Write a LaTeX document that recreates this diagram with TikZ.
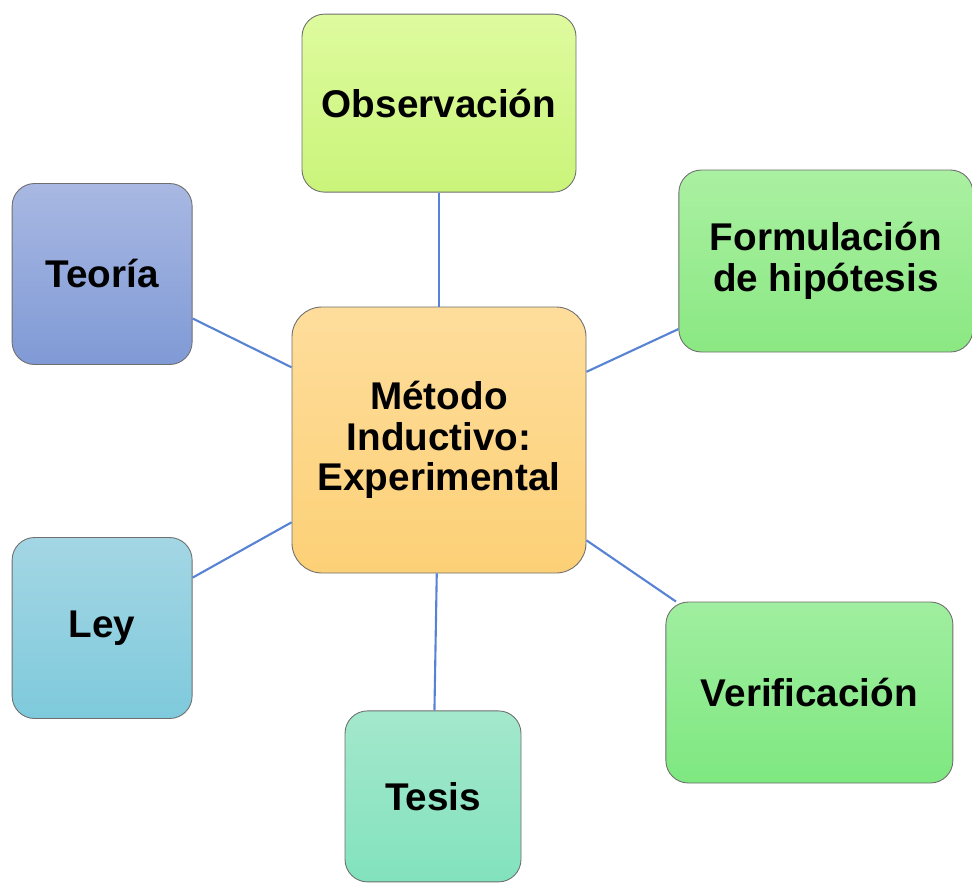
\documentclass[tikz,border=0pt]{standalone}
\usepackage{fontspec}
\setmainfont{Liberation Sans}
\usepackage{tikz}
\usetikzlibrary{positioning}

\definecolor{lineblue}{RGB}{88,130,212}
\definecolor{edgegray}{RGB}{110,110,110}

\begin{document}
\begin{tikzpicture}[
  box/.style={draw=edgegray, line width=0.5pt, rounded corners=0.45cm, align=center,
    font=\fontsize{22}{23}\selectfont\bfseries, inner sep=0pt},
  bigbox/.style={box, rounded corners=0.6cm, minimum width=5.88cm, minimum height=5.32cm,
    top color={rgb,255:red,254;green,221;blue,156}, bottom color={rgb,255:red,252;green,208;blue,118}},
  link/.style={draw=lineblue, line width=1.2pt}
]
\useasboundingbox (-8.78,8.80) rectangle (10.66,-8.86);

% Nodes
\node[bigbox] (met) {Método\\Inductivo:\\Experimental};

\node[box, above=2.28cm of met, minimum width=5.48cm, minimum height=3.56cm,
  top color={rgb,255:red,222;green,251;blue,158}, bottom color={rgb,255:red,202;green,244;blue,122}] (obs) {Observación};
\node[box, right=1.84cm of met, yshift=3.58cm, minimum width=5.88cm, minimum height=3.64cm,
  top color={rgb,255:red,170;green,240;blue,162}, bottom color={rgb,255:red,138;green,232;blue,130}] (form) {Formulación\\de hipótesis};
\node[box, right=1.58cm of met, yshift=-5.05cm, minimum width=5.74cm, minimum height=3.62cm,
  top color={rgb,255:red,160;green,238;blue,160}, bottom color={rgb,255:red,126;green,232;blue,128}] (ver) {Verificación};
\node[box, below=2.74cm of met, xshift=-0.12cm, minimum width=3.52cm, minimum height=3.42cm,
  top color={rgb,255:red,164;green,232;blue,204}, bottom color={rgb,255:red,130;green,226;blue,190}] (tes) {Tesis};
\node[box, left=1.98cm of met, yshift=-3.76cm, minimum width=3.6cm, minimum height=3.62cm,
  top color={rgb,255:red,164;green,214;blue,228}, bottom color={rgb,255:red,126;green,202;blue,220}] (ley) {Ley};
\node[box, left=1.98cm of met, yshift=3.32cm, minimum width=3.6cm, minimum height=3.62cm,
  top color={rgb,255:red,168;green,184;blue,226}, bottom color={rgb,255:red,128;green,154;blue,214}] (teo) {Teoría};

% Edges
\draw[link] (met) -- (obs);
\draw[link] (met) -- (form);
\draw[link] (met) -- (ver);
\draw[link] (met) -- (tes);
\draw[link] (met) -- (ley);
\draw[link] (met) -- (teo);

\end{tikzpicture}
\end{document}
